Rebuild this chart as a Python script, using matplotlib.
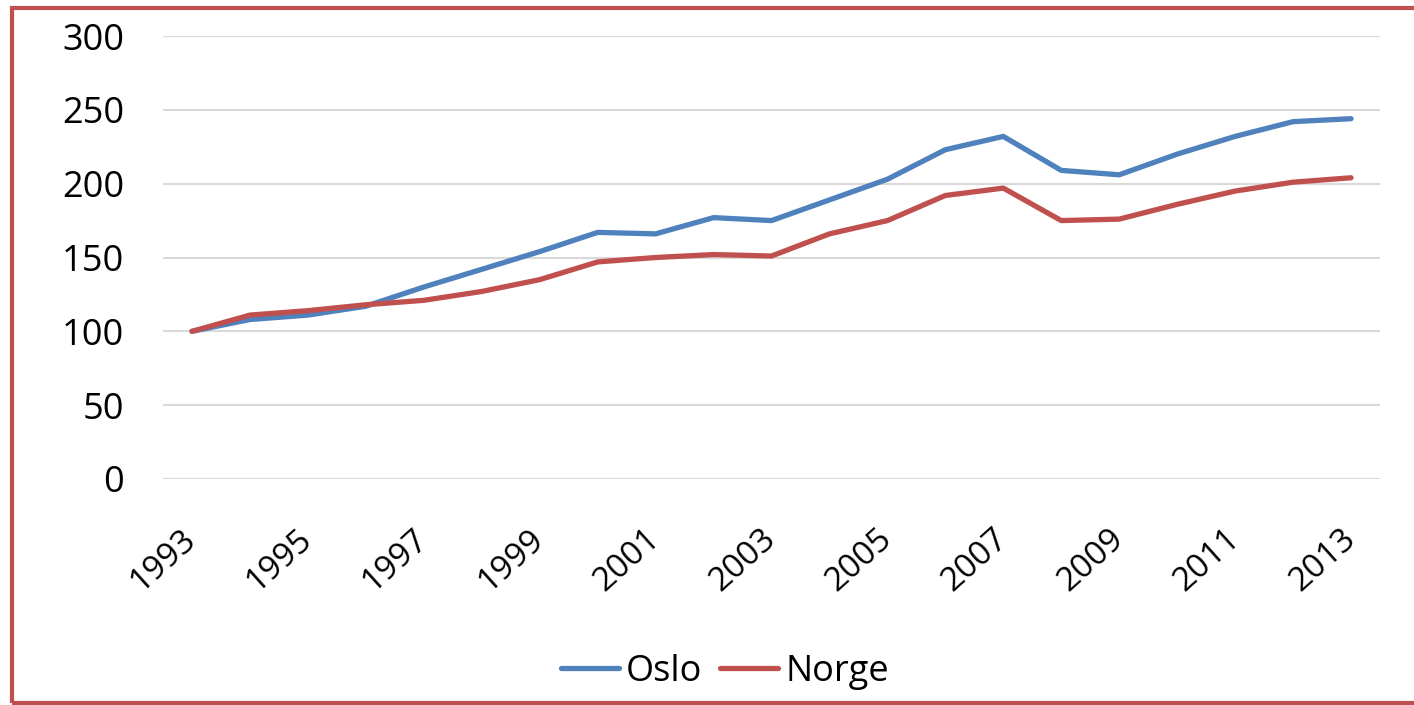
import matplotlib
matplotlib.use("Agg")
import matplotlib.pyplot as plt
from matplotlib.patches import Rectangle

years = list(range(1993, 2014))
oslo = [100, 108, 111, 117, 130, 142, 154, 167, 166, 177, 175, 189, 203, 223, 232,
        209, 206, 220, 232, 242, 244]
norge = [100, 111, 114, 118, 121, 127, 135, 147, 150, 152, 151, 166, 175, 192, 197,
         175, 176, 186, 195, 201, 204]
ylabels = [0, 50, 100, 150, 200, 250, 300]

plt.rcParams['font.family'] = ['Open Sans', 'DejaVu Sans']

W, H = 1414, 705
fig = plt.figure(figsize=(W / 100, H / 100), dpi=100)
ax = fig.add_axes([163 / W, 1 - 479 / H, (1380 - 163) / W, (479 - 36) / H])

x = list(range(len(years)))
ax.plot(x, oslo, color="#4F81BD", lw=3.8, solid_capstyle="round", label="Oslo", zorder=3)
ax.plot(x, norge, color="#C0504D", lw=3.8, solid_capstyle="round", label="Norge", zorder=3)

ax.set_xlim(-0.5, len(years) - 0.5)
ax.set_ylim(0, 300)
ax.set_yticks(ylabels)
ax.set_xticks(x[::2])
ax.set_xticklabels([str(y) for y in years[::2]], rotation=42, ha="right",
                   va="center", rotation_mode="anchor")
ax.tick_params(axis="y", length=0, labelsize=26, pad=28)
ax.tick_params(axis="x", length=0, labelsize=24, pad=40)
ax.grid(axis="y", color="#D9D9D9", lw=1.5)
ax.set_axisbelow(True)
for s in ax.spines.values():
    s.set_visible(False)

fig.legend(loc="center", bbox_to_anchor=(725 / W, 1 - 672 / H), ncol=2, frameon=False,
           fontsize=26, handlelength=1.6, handletextpad=0.2, columnspacing=0.5)

fig.patches.append(Rectangle((12 / W, 1 - 703 / H), (W + 20) / W, (703 - 8) / H,
                             transform=fig.transFigure, fill=False,
                             edgecolor="#C0504D", lw=3, zorder=0))

fig.savefig("out.png", dpi=100)
